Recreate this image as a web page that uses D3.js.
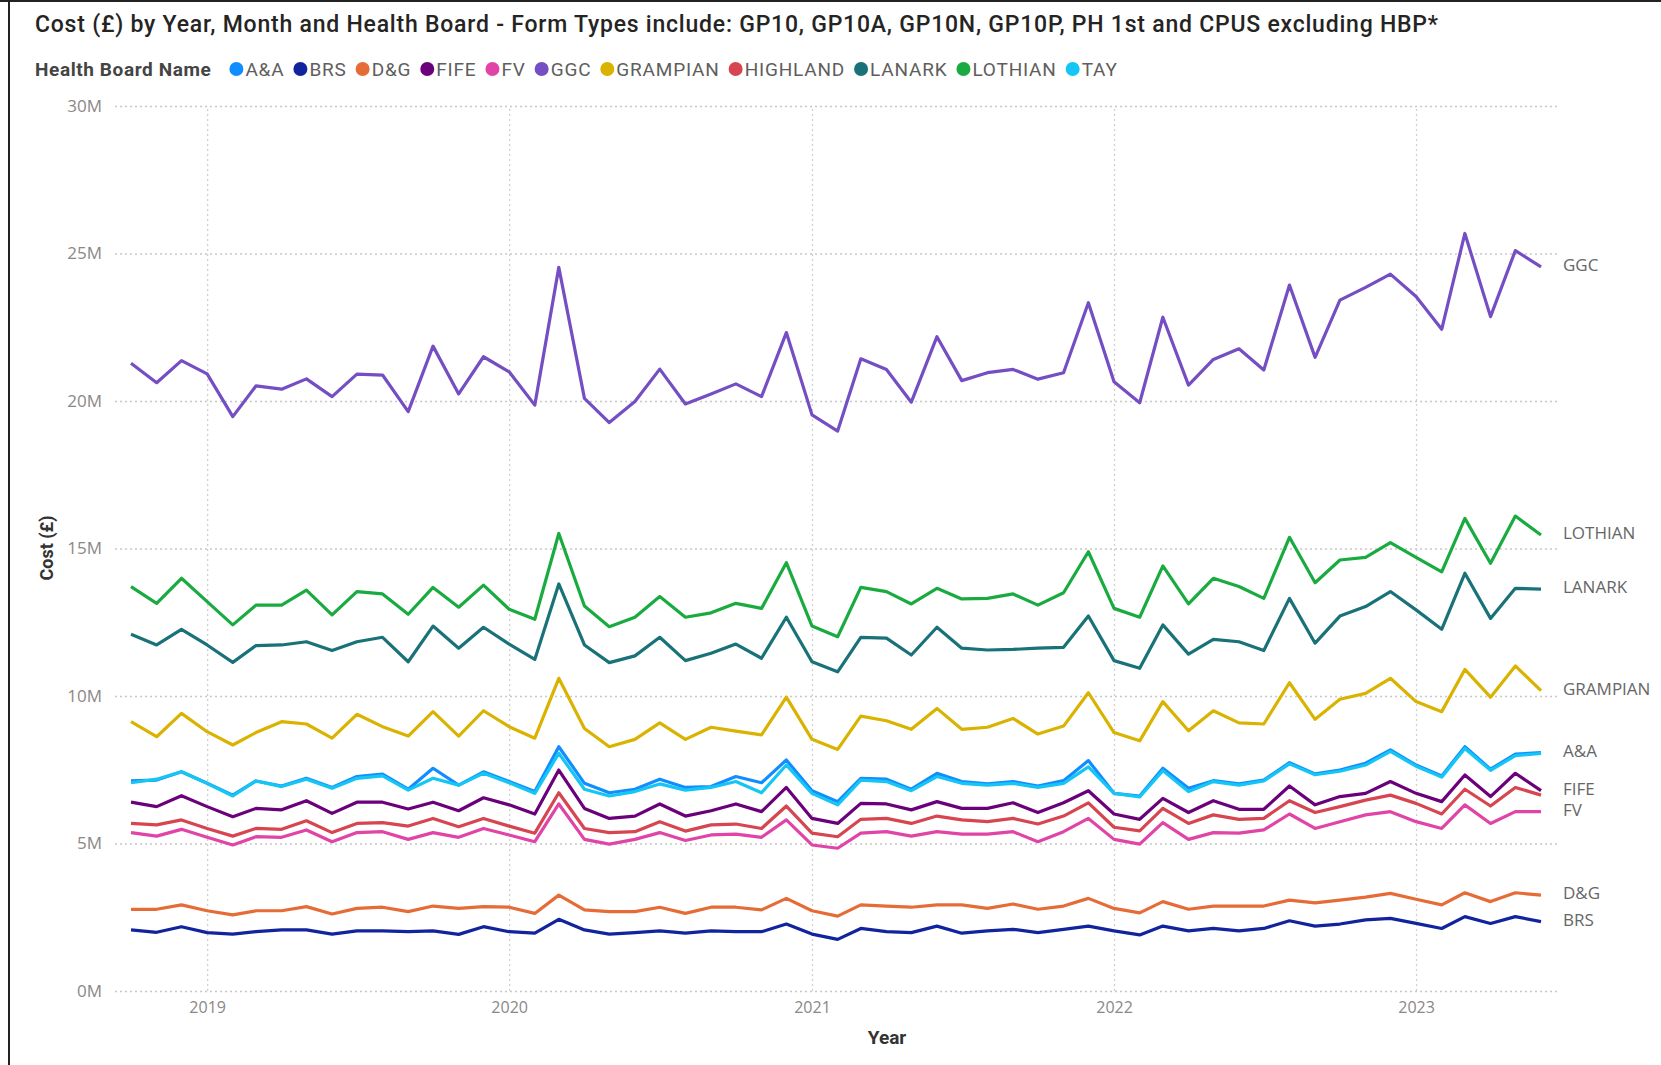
<!DOCTYPE html>
<html>
<head>
<meta charset="utf-8">
<script src="https://cdn.jsdelivr.net/npm/d3@7"></script>
<style>
  body { margin: 0; background: #fff; }
  svg { display: block; font-family: Roboto, "Noto Sans", sans-serif; }
</style>
</head>
<body>
<svg id="chart" width="1661" height="1065"></svg>
<script>
// months on the x axis (Oct 2018 .. Jun 2023)
const months = [
  "2018-10","2018-11","2018-12",
  "2019-01","2019-02","2019-03","2019-04","2019-05","2019-06","2019-07","2019-08","2019-09","2019-10","2019-11","2019-12",
  "2020-01","2020-02","2020-03","2020-04","2020-05","2020-06","2020-07","2020-08","2020-09","2020-10","2020-11","2020-12",
  "2021-01","2021-02","2021-03","2021-04","2021-05","2021-06","2021-07","2021-08","2021-09","2021-10","2021-11","2021-12",
  "2022-01","2022-02","2022-03","2022-04","2022-05","2022-06","2022-07","2022-08","2022-09","2022-10","2022-11","2022-12",
  "2023-01","2023-02","2023-03","2023-04","2023-05","2023-06"
];

const boards = ["A&A", "BRS", "D&G", "FIFE", "FV", "GGC", "GRAMPIAN", "HIGHLAND", "LANARK", "LOTHIAN", "TAY"];
const colors = ["#118DFF", "#12239E", "#E66C37", "#6B007B", "#E044A7", "#744EC2", "#D9B300", "#D64550", "#197278", "#1AAB40", "#15C6F4"];

// cost in £ millions
const aa = [7.12,7.15,7.43,7.04,6.64,7.12,6.95,7.21,6.90,7.27,7.35,6.84,7.55,6.98,7.43,
  7.10,6.76,8.28,7.04,6.72,6.84,7.18,6.90,6.93,7.27,7.06,7.83,6.79,6.42,
  7.21,7.18,6.84,7.38,7.10,7.02,7.10,6.95,7.13,7.81,6.70,6.61,7.55,6.87,7.13,7.02,
  7.15,7.74,7.36,7.49,7.72,8.17,7.66,7.29,8.28,7.52,8.03,8.08];
const brs = [2.07,1.99,2.18,1.98,1.93,2.01,2.07,2.07,1.93,2.04,2.04,2.01,2.04,1.92,2.18,
  2.01,1.96,2.43,2.07,1.93,1.98,2.04,1.96,2.04,2.01,2.01,2.27,1.93,1.75,
  2.12,2.01,1.98,2.20,1.96,2.04,2.09,1.98,2.09,2.20,2.04,1.90,2.20,2.04,2.12,2.04,
  2.12,2.38,2.20,2.27,2.41,2.46,2.29,2.12,2.52,2.29,2.52,2.35];
const dg = [2.77,2.77,2.92,2.72,2.58,2.72,2.72,2.86,2.61,2.80,2.84,2.69,2.88,2.80,2.86,
  2.84,2.63,3.25,2.75,2.69,2.69,2.84,2.63,2.84,2.84,2.75,3.14,2.72,2.54,
  2.92,2.88,2.84,2.92,2.92,2.80,2.95,2.77,2.88,3.14,2.80,2.65,3.03,2.77,2.88,2.88,
  2.88,3.08,2.99,3.08,3.18,3.31,3.11,2.92,3.33,3.03,3.33,3.25];
const fife = [6.40,6.25,6.62,6.25,5.91,6.19,6.14,6.45,6.02,6.40,6.40,6.17,6.40,6.11,6.55,
  6.31,6.00,7.49,6.19,5.85,5.93,6.34,5.93,6.11,6.34,6.08,6.90,5.85,5.68,
  6.36,6.34,6.14,6.42,6.19,6.19,6.38,6.05,6.38,6.79,6.00,5.82,6.53,6.05,6.45,6.16,
  6.16,6.95,6.31,6.59,6.70,7.10,6.70,6.42,7.32,6.59,7.38,6.79];
const fv = [5.37,5.25,5.48,5.21,4.95,5.23,5.21,5.46,5.06,5.37,5.40,5.14,5.37,5.21,5.51,
  5.29,5.06,6.34,5.14,4.98,5.14,5.37,5.10,5.29,5.32,5.21,5.80,4.95,4.84,
  5.35,5.40,5.25,5.40,5.32,5.32,5.40,5.06,5.40,5.85,5.14,4.98,5.71,5.14,5.37,5.35,
  5.46,6.00,5.51,5.74,5.97,6.08,5.74,5.51,6.31,5.68,6.08,6.08];
const ggc = [21.28,20.62,21.37,20.92,19.47,20.51,20.40,20.75,20.15,20.91,20.88,19.64,21.86,20.24,21.50,
  20.99,19.86,24.53,20.09,19.27,19.98,21.08,19.90,20.24,20.58,20.15,22.32,19.53,18.98,
  21.43,21.07,19.96,22.18,20.69,20.96,21.07,20.74,20.96,23.33,20.65,19.94,22.84,20.54,21.41,21.77,
  21.05,23.93,21.48,23.42,23.85,24.30,23.54,22.43,25.68,22.86,25.10,24.55];
const grampian = [9.13,8.62,9.41,8.79,8.34,8.76,9.13,9.05,8.57,9.38,8.96,8.64,9.47,8.64,9.50,
  8.96,8.57,10.60,8.90,8.28,8.53,9.09,8.53,8.94,8.81,8.68,9.96,8.53,8.19,
  9.32,9.16,8.87,9.58,8.87,8.94,9.24,8.71,8.98,10.11,8.76,8.48,9.81,8.82,9.50,9.09,
  9.05,10.45,9.21,9.89,10.09,10.60,9.81,9.47,10.90,9.96,11.02,10.18];
const highland = [5.68,5.63,5.80,5.51,5.25,5.51,5.48,5.77,5.37,5.68,5.71,5.59,5.85,5.57,5.85,
  5.59,5.35,6.72,5.51,5.37,5.40,5.74,5.42,5.63,5.66,5.51,6.27,5.35,5.23,
  5.82,5.85,5.68,5.93,5.80,5.74,5.85,5.66,5.93,6.38,5.55,5.43,6.19,5.68,5.97,5.82,
  5.85,6.45,6.05,6.25,6.47,6.64,6.36,6.00,6.84,6.27,6.90,6.64];
const lanark = [12.09,11.73,12.26,11.73,11.14,11.71,11.73,11.84,11.54,11.84,11.99,11.16,12.37,11.62,12.33,
  11.76,11.24,13.80,11.73,11.13,11.36,11.99,11.20,11.45,11.76,11.28,12.67,11.16,10.82,
  11.99,11.96,11.39,12.33,11.62,11.56,11.58,11.62,11.65,12.71,11.20,10.94,12.41,11.42,11.92,11.84,
  11.54,13.31,11.79,12.71,13.03,13.54,12.92,12.26,14.16,12.63,13.65,13.62];
const lothian = [13.71,13.14,13.99,13.20,12.41,13.08,13.08,13.59,12.75,13.54,13.46,12.77,13.68,13.01,13.76,
  12.94,12.60,15.51,13.05,12.35,12.67,13.37,12.67,12.82,13.14,12.97,14.52,12.37,12.01,
  13.68,13.54,13.12,13.65,13.29,13.31,13.46,13.08,13.50,14.89,12.97,12.67,14.41,13.12,13.99,13.71,
  13.31,15.38,13.84,14.61,14.70,15.20,14.70,14.21,16.02,14.50,16.10,15.46];
const tay = [7.06,7.18,7.43,7.04,6.61,7.12,6.93,7.18,6.87,7.21,7.29,6.81,7.21,6.98,7.38,
  7.06,6.70,8.06,6.84,6.61,6.76,7.02,6.81,6.90,7.10,6.72,7.66,6.70,6.31,
  7.15,7.10,6.79,7.27,7.04,6.98,7.04,6.90,7.04,7.60,6.70,6.58,7.47,6.76,7.10,6.98,
  7.12,7.70,7.33,7.45,7.66,8.12,7.62,7.25,8.22,7.48,7.98,8.05];

const yTicks = [0, 5, 10, 15, 20, 25, 30];
const yearTicks = ["2019", "2020", "2021", "2022", "2023"];
const endLabels = ["GGC", "LOTHIAN", "LANARK", "GRAMPIAN", "A&A", "FIFE", "FV", "D&G", "BRS"];

const titleText = "Cost (£) by Year, Month and Health Board - Form Types include: GP10, GP10A, GP10N, GP10P, PH 1st and CPUS excluding HBP*";

const seriesByBoard = {
  "A&A": aa, "BRS": brs, "D&G": dg, "FIFE": fife, "FV": fv, "GGC": ggc,
  "GRAMPIAN": grampian, "HIGHLAND": highland, "LANARK": lanark, "LOTHIAN": lothian, "TAY": tay
};

const svg = d3.select('#chart');
const parseMonth = d3.timeParse('%Y-%m');
const parseYear = d3.timeParse('%Y');
const dates = months.map(parseMonth);

const color = d3.scaleOrdinal().domain(boards).range(colors);

const x = d3.scaleTime()
  .domain([dates[0], dates[dates.length - 1]])
  .range([131, 1541]);
const y = d3.scaleLinear()
  .domain([0, 30])
  .range([991, 106]);

const gridLeft = 115, gridRight = 1557;

// frame of the screenshot
svg.append('line').attr('x1', 9).attr('y1', 0).attr('x2', 9).attr('y2', 1065)
  .style('stroke', '#222').style('stroke-width', 2);
svg.append('line').attr('x1', 0).attr('y1', 1).attr('x2', 1661).attr('y2', 1)
  .style('stroke', '#222').style('stroke-width', 2);

// title
svg.append('text')
  .attr('x', 35).attr('y', 32)
  .attr('textLength', 1403).attr('lengthAdjust', 'spacing')
  .style('font-size', '23px').style('font-weight', 500).style('fill', '#252423')
  .text(titleText);

// legend
const legend = svg.append('g').attr('transform', 'translate(35,69)');
const legTitle = legend.append('text')
  .attr('x', 0).attr('y', 7)
  .style('font-size', '19px').style('font-weight', 700).style('fill', '#444')
  .style('letter-spacing', '0.6px')
  .text('Health Board Name');
let lx = legTitle.node().getComputedTextLength() + 25;
boards.forEach(b => {
  legend.append('circle').attr('cx', lx).attr('cy', 0).attr('r', 7).attr('fill', color(b));
  const t = legend.append('text')
    .attr('x', lx + 9).attr('y', 7)
    .style('font-size', '19px').style('fill', '#605E5C')
    .style('letter-spacing', '0.8px')
    .text(b);
  lx += 9 + t.node().getComputedTextLength() + 16;
});

// y axis with gridlines
const yAxis = svg.append('g')
  .attr('transform', `translate(${gridLeft},0)`)
  .call(d3.axisLeft(y).tickValues(yTicks).tickSize(-(gridRight - gridLeft)).tickPadding(13)
    .tickFormat(d => d + 'M'));
yAxis.select('.domain').remove();
yAxis.selectAll('.tick line')
  .style('stroke', '#c8c8c8').style('stroke-width', 1.3).style('stroke-dasharray', '2,3');
yAxis.selectAll('.tick text')
  .style('font-size', '17px').style('fill', '#8a8886').style('font-family', '"Open Sans", sans-serif');

// x axis with year gridlines
const xAxis = svg.append('g')
  .attr('transform', `translate(0,${y(0)})`)
  .call(d3.axisBottom(x).tickValues(yearTicks.map(parseYear)).tickSize(-(y(0) - y(30))).tickPadding(11)
    .tickFormat(d3.timeFormat('%Y')));
xAxis.select('.domain').remove();
xAxis.selectAll('.tick line')
  .style('stroke', '#d0d0d0').style('stroke-width', 1.3).style('stroke-dasharray', '2,3');
xAxis.selectAll('.tick text')
  .style('font-size', '16px').style('fill', '#8a8886').style('font-family', '"Open Sans", sans-serif');

// axis titles
svg.append('text')
  .attr('transform', 'translate(53,548) rotate(-90)')
  .attr('text-anchor', 'middle')
  .style('font-size', '18px').style('font-weight', 700).style('fill', '#333')
  .text('Cost (£)');
svg.append('text')
  .attr('x', 887).attr('y', 1044)
  .attr('text-anchor', 'middle')
  .style('font-size', '19px').style('font-weight', 700).style('fill', '#333')
  .text('Year');

// lines
const line = d3.line()
  .x((d, i) => x(dates[i]))
  .y(d => y(d))
  .curve(d3.curveLinear);

svg.append('g').classed('lines', true)
  .selectAll('path').data(boards)
  .enter().append('path')
  .attr('d', b => line(seriesByBoard[b]))
  .attr('fill', 'none')
  .style('stroke', b => color(b))
  .style('stroke-width', 3.2)
  .style('stroke-linejoin', 'round');

// labels at the end of lines
svg.append('g').classed('end-labels', true)
  .selectAll('text').data(endLabels)
  .enter().append('text')
  .attr('x', 1563)
  .attr('y', b => y(seriesByBoard[b][seriesByBoard[b].length - 1]) + 4)
  .style('font-size', '17px').style('fill', '#666')
  .style('font-family', '"Open Sans", sans-serif')
  .text(b => b);
</script>
</body>
</html>
